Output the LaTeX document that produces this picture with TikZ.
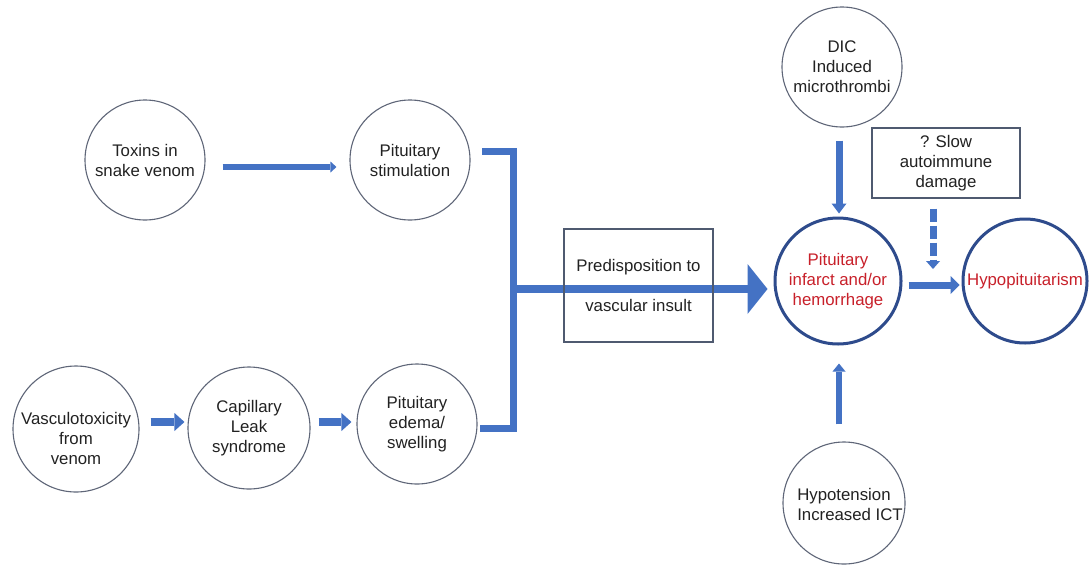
\documentclass[tikz,border=0pt]{standalone}
\usepackage{fontspec}
\setmainfont{Liberation Sans}
\usetikzlibrary{arrows.meta,calc}
\definecolor{arrblue}{HTML}{4472C4}
\definecolor{circline}{HTML}{5F6678}
\definecolor{boxline}{HTML}{4F5A70}
\definecolor{thickline}{HTML}{2E4B8C}
\definecolor{txtred}{HTML}{C8202A}
\definecolor{txtdark}{HTML}{222222}
\begin{document}
\begin{tikzpicture}[x=1pt,y=-1pt,
  every node/.style={font=\fontsize{16.8}{20}\selectfont, text=txtdark},
  circ/.style={circle, draw=circline, line width=1.1pt, inner sep=0pt, align=center},
  thickc/.style={circle, draw=thickline, line width=3pt, inner sep=0pt, align=center, text=txtred},
  boxnode/.style={rectangle, draw=boxline, line width=1.1pt, inner sep=0pt, align=center},
  arr/.style={draw=arrblue, line width=#1, line cap=butt},
  bracket/.style={draw=arrblue, line width=7pt, line join=miter, line cap=butt}
]
\fill[white] (0,0) rectangle (1089,565);
\useasboundingbox (0,0) rectangle (1089,565);

% circles
\node[circ, minimum size=120pt] (toxins) at (145,160) {Toxins in\\snake venom};
\node[circ, minimum size=120pt] (pitstim) at (410,160) {Pituitary\\stimulation};
\node[circ, minimum size=126pt] (vasc) at (76,429) {};
\node[align=center, inner sep=0pt] (vasctxt) at ($(vasc.center)+(0,9)$) {Vasculotoxicity\\from\\venom};
\node[circ, minimum size=122pt] (cap) at (249,428) {Capillary\\Leak\\syndrome};
\node[circ, minimum size=120pt] (edema) at (417,424) {Pituitary\\edema/\\swelling};
\node[circ, minimum size=120pt] (dic) at (842,67) {DIC\\Induced\\microthrombi};
\node[boxnode, minimum width=148pt, minimum height=70pt] (slow) at (946,163) {? Slow\\autoimmune\\damage};
\node[thickc, minimum size=126pt] (infarct) at (838,281) {Pituitary\\infarct and/or\\hemorrhage};
\node[thickc, minimum size=124pt] (hypo) at (1025,281) {Hypopituitarism};
\node[circ, minimum size=122pt] (hypot) at (844,503) {};
\node[align=left, inner sep=0pt] (hypottxt) at ($(hypot.center)+(6,1)$) {Hypotension\\Increased ICT};

% coordinates of the bracket
\coordinate (bt) at (482,151);
\coordinate (bb) at (480,428);
\coordinate (j) at (513,289);
\coordinate (dend) at (933,269);

% arrows
\draw[arr=6pt, -{Triangle[length=6pt,width=11pt,line width=0pt]}]
  ($(toxins.east)+(17,7)$) -- ($(toxins.east -| pitstim.west)+(-13,7)$);
\draw[arr=8pt, -{Triangle[length=10pt,width=18pt,line width=0pt]}]
  ($(vasc.east)+(11,-7)$) -- ($(vasc.east -| cap.west)+(-3,-7)$);
\draw[arr=8pt, -{Triangle[length=10pt,width=18pt,line width=0pt]}]
  ($(cap.east)+(8,-6)$) -- ($(cap.east -| edema.west)+(-5,-6)$);
\draw[bracket] (bt) -| (j) |- (bb);
\draw[arr=8pt, -{Triangle[length=20pt,width=50pt,line width=0pt]}]
  (j) -- ($(j -| infarct.west)+(-6,0)$);
\draw[arr=7pt, -{Triangle[length=10pt,width=15pt,line width=0pt]}]
  ($(dic.south -| infarct.north)+(1,13)$) -- ($(infarct.north)+(1,-3)$);
\draw[arr=6pt, -{Triangle[length=8pt,width=13pt,line width=0pt]}]
  ($(hypot.north -| infarct.south)+(1,-17)$) -- ($(infarct.south)+(1,18)$);
\draw[arr=7pt, -{Triangle[length=9pt,width=18pt,line width=0pt]}]
  ($(infarct.east)+(6,4)$) -- ($(infarct.east -| hypo.west)+(-2,4)$);
\draw[arr=7pt, dash pattern=on 13pt off 4pt, -{Triangle[length=8pt,width=14pt,line width=0pt]}]
  ($(slow.south -| dend)+(0,10)$) -- (dend);

% box drawn over the main arrow
\node[boxnode, minimum width=149pt, minimum height=113pt] (pred) at (638.5,285.5) {Predisposition to\\[20pt]vascular insult};
\end{tikzpicture}
\end{document}
